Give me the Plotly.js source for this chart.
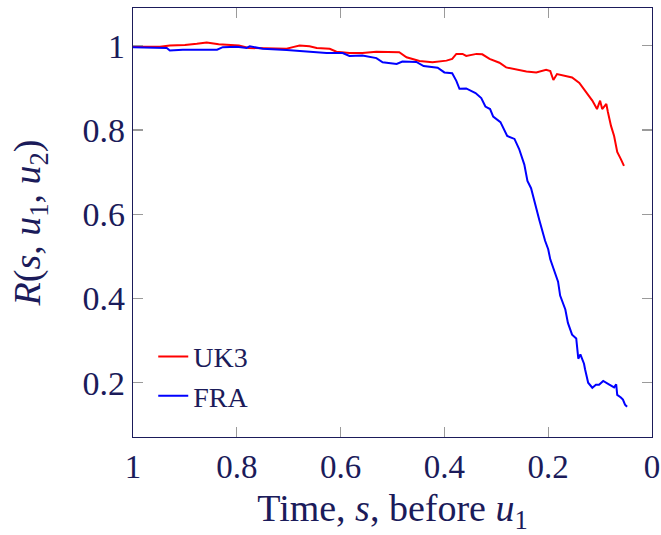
<!DOCTYPE html>
<html>
<head>
<meta charset="utf-8">
<script src="https://cdn.plot.ly/plotly-3.0.1.min.js"></script>
<style>html,body{margin:0;padding:0;background:#fff;}#chart{width:661px;height:535px;}</style>
</head>
<body>
<div id="chart"></div>
<script>
// UK3 series: time s before u1, and R(s,u1,u2)
const ukS = [1.0, 0.981, 0.948, 0.929, 0.900, 0.877, 0.858, 0.835, 0.815, 0.796, 0.777, 0.738, 0.704, 0.692, 0.679, 0.660, 0.646, 0.621, 0.608, 0.583, 0.558, 0.531, 0.506, 0.487, 0.473, 0.448, 0.423, 0.396, 0.385, 0.377, 0.365, 0.358, 0.338, 0.327, 0.313, 0.294, 0.281, 0.262, 0.242, 0.223, 0.204, 0.196, 0.190, 0.183, 0.165, 0.154, 0.140, 0.127, 0.115, 0.106, 0.100, 0.096, 0.088, 0.085, 0.079, 0.073, 0.067, 0.060, 0.054];
const ukR = [0.998, 0.998, 0.998, 1.001, 1.002, 1.005, 1.008, 1.004, 1.003, 1.001, 0.995, 0.993, 0.993, 0.997, 1.001, 0.999, 0.995, 0.993, 0.986, 0.983, 0.983, 0.986, 0.986, 0.985, 0.973, 0.964, 0.961, 0.965, 0.969, 0.981, 0.981, 0.976, 0.981, 0.980, 0.969, 0.960, 0.949, 0.945, 0.939, 0.937, 0.943, 0.940, 0.919, 0.933, 0.929, 0.925, 0.912, 0.890, 0.870, 0.850, 0.870, 0.850, 0.862, 0.843, 0.810, 0.786, 0.748, 0.731, 0.715];

// FRA series
const fraS = [1.0, 0.967, 0.935, 0.929, 0.904, 0.838, 0.827, 0.800, 0.781, 0.775, 0.750, 0.704, 0.673, 0.627, 0.596, 0.583, 0.558, 0.531, 0.519, 0.492, 0.481, 0.454, 0.440, 0.413, 0.400, 0.385, 0.377, 0.371, 0.358, 0.340, 0.329, 0.321, 0.312, 0.306, 0.292, 0.279, 0.265, 0.256, 0.246, 0.240, 0.233, 0.227, 0.217, 0.206, 0.200, 0.196, 0.187, 0.181, 0.177, 0.167, 0.162, 0.154, 0.146, 0.142, 0.138, 0.131, 0.129, 0.123, 0.115, 0.108, 0.102, 0.094, 0.083, 0.073, 0.069, 0.067, 0.060, 0.056, 0.052, 0.048];
const fraR = [0.997, 0.996, 0.995, 0.989, 0.991, 0.991, 0.997, 0.998, 0.995, 0.999, 0.993, 0.990, 0.987, 0.983, 0.983, 0.976, 0.977, 0.971, 0.961, 0.957, 0.963, 0.962, 0.952, 0.948, 0.937, 0.935, 0.917, 0.898, 0.899, 0.888, 0.876, 0.856, 0.850, 0.832, 0.819, 0.786, 0.779, 0.755, 0.718, 0.679, 0.662, 0.631, 0.586, 0.537, 0.517, 0.493, 0.464, 0.440, 0.407, 0.374, 0.342, 0.314, 0.305, 0.257, 0.267, 0.245, 0.232, 0.200, 0.188, 0.195, 0.195, 0.204, 0.196, 0.189, 0.196, 0.171, 0.165, 0.160, 0.148, 0.143];

const seriesNames = ["UK3", "FRA"];
const xTicks = [1, 0.8, 0.6, 0.4, 0.2, 0];
const xTickText = ["1", "0.8", "0.6", "0.4", "0.2", "0"];
const yTicks = [0.2, 0.4, 0.6, 0.8, 1];
const yTickText = ["0.2", "0.4", "0.6", "0.8", "1"];

const navy = "#1b1b5a";
const fontFam = "Liberation Serif, serif";

const traces = [
  {x: ukS, y: ukR, name: seriesNames[0], mode: "lines", line: {color: "#ff0000", width: 2}},
  {x: fraS, y: fraR, name: seriesNames[1], mode: "lines", line: {color: "#0000ff", width: 2}}
];

const layout = {
  width: 661, height: 535,
  margin: {l: 133, r: 9, t: 8, b: 98},
  paper_bgcolor: "#fff", plot_bgcolor: "#fff",
  font: {family: fontFam, color: navy, size: 30},
  showlegend: true,
  legend: {x: 0.039, y: 0.038, xanchor: "left", yanchor: "bottom", bgcolor: "rgba(0,0,0,0)", borderwidth: 0, font: {size: 28, color: navy, family: fontFam}, tracegroupgap: 0},
  xaxis: {
    range: [1, 0], tickvals: xTicks, ticktext: xTickText, ticklabeloverflow: "allow",
    showgrid: false, zeroline: false,
    showline: true, linecolor: navy, linewidth: 1.2, mirror: "ticks",
    ticks: "inside", ticklen: 10, tickcolor: "#9a9a9a", tickwidth: 1.2,
    tickfont: {size: 33, color: navy, family: fontFam},
    title: {text: "Time, <i>s</i>, before <i>u</i><sub>1</sub>", font: {size: 38, color: navy, family: fontFam}, standoff: 16}
  },
  yaxis: {
    range: [0.071, 1.09], tickvals: yTicks, ticktext: yTickText,
    showgrid: false, zeroline: false,
    showline: true, linecolor: navy, linewidth: 1.2, mirror: "ticks",
    ticks: "inside", ticklen: 10, tickcolor: "#9a9a9a", tickwidth: 1.2,
    tickfont: {size: 34, color: navy, family: fontFam},
    title: {text: "<i>R</i>(<i>s</i>, <i>u</i><sub>1</sub>, <i>u</i><sub>2</sub>)", font: {size: 38, color: navy, family: fontFam}, standoff: 30}
  }
};

Plotly.newPlot("chart", traces, layout, {displayModeBar: false, staticPlot: true});
</script>
</body>
</html>
